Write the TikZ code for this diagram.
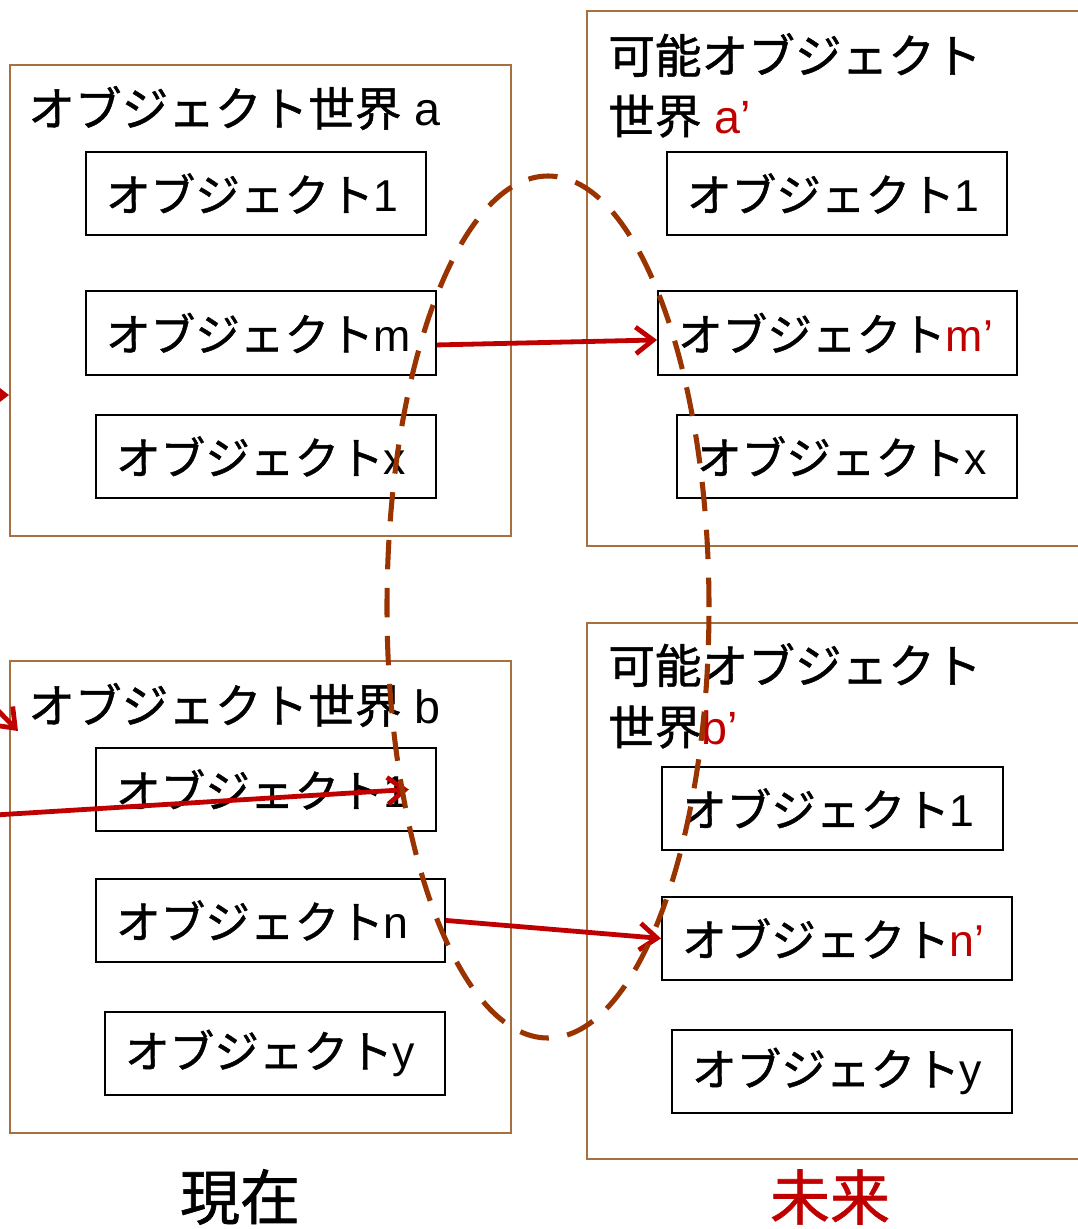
\documentclass[tikz,border=0pt]{standalone}
\usepackage{fontspec}
\setmainfont{Liberation Sans}
\newfontfamily\jpfont[FakeBold=1]{Noto Sans CJK JP}
\newcommand{\jp}[1]{{\jpfont #1}}
\usetikzlibrary{arrows.meta}
\definecolor{worldbrown}{RGB}{166,112,64}
\definecolor{ellbrown}{RGB}{153,51,0}
\definecolor{darkred}{RGB}{192,0,0}
\begin{document}
\begin{tikzpicture}[x=0.75pt,y=-0.75pt,
  world/.style={draw=worldbrown, line width=1.2pt, anchor=north west, inner sep=0pt},
  obj/.style={draw=black, line width=1.4pt, anchor=north west, inner xsep=15pt, inner ysep=0pt,
    minimum height=62.25pt, align=left, text width=#1, font=\fontsize{33.5}{36}\selectfont},
  wtitle/.style={anchor=west, inner sep=0pt, font=\fontsize{35}{40}\selectfont},
  bottomlabel/.style={inner sep=0pt, font=\fontsize{45}{50}\selectfont},
  arr/.style={draw=darkred, line width=3.6pt, -{Straight Barb[length=13pt,width=20pt]}},
  dashell/.style={draw=ellbrown, line width=3.8pt, dash pattern=on 22pt off 14pt}
]
\useasboundingbox (0,0) rectangle (1078,1229);
\clip (0,0) rectangle (1078,1229);

% worlds
\node[world, minimum width=375.75pt, minimum height=353.25pt] (wa) at (9,64) {};
\node[world, minimum width=375.75pt, minimum height=354pt] (wb) at (9,660) {};
\node[world, minimum width=378pt, minimum height=401.25pt] (wap) at (586,10) {};
\node[world, minimum width=378pt, minimum height=402pt] (wbp) at (586,622) {};

% titles
\node[wtitle] (ta) at (28,108) {\jp{オブジェクト世界} a};
\node[wtitle] (tb) at (28,705) {\jp{オブジェクト世界} b};
\node[wtitle] (tap1) at (608,55) {\jp{可能オブジェクト}};
\node[wtitle] (tap2) at (608,116) {\jp{世界} \textcolor{darkred}{a’}};
\node[wtitle] (tbp1) at (608,665) {\jp{可能オブジェクト}};
\node[wtitle] (tbp2) at (608,727) {\jp{世界}\textcolor{darkred}{b’}};

% objects, left
\node[obj=225pt] (a1) at (85,151) {\jp{オブジェクト}1};
\node[obj=232.5pt, minimum height=63pt] (am) at (85,290) {\jp{オブジェクト}m};
\node[obj=225pt] (ax) at (95,414) {\jp{オブジェクト}x};
\node[obj=225pt] (b1) at (95,747) {\jp{オブジェクト}1};
\node[obj=231.75pt] (bn) at (95,878) {\jp{オブジェクト}n};
\node[obj=225pt] (by) at (104,1011) {\jp{オブジェクト}y};

% objects, right
\node[obj=225pt] (ap1) at (666,151) {\jp{オブジェクト}1};
\node[obj=239.25pt, minimum height=63pt] (apm) at (657,290) {\jp{オブジェクト}\textcolor{darkred}{m’}};
\node[obj=225pt] (apx) at (676,414) {\jp{オブジェクト}x};
\node[obj=225.75pt] (bp1) at (661,766) {\jp{オブジェクト}1};
\node[obj=232.5pt] (bpn) at (661,896) {\jp{オブジェクト}\textcolor{darkred}{n’}};
\node[obj=225pt] (bpy) at (671,1029) {\jp{オブジェクト}y};

% bottom labels
\node[bottomlabel] (now) at (240,1197) {\jp{現在}};
\node[bottomlabel, text=darkred] (fut) at (830,1197) {\jp{未来}};

% arrows
\draw[arr] ([yshift=-9pt]am.east) -- ([yshift=-5.25pt]apm.west);
\draw[arr] (bn.east) -- (bpn.west);
\coordinate (lb) at (-5,815);
\draw[arr] (lb) -- ([xshift=-21pt]b1.east);
\coordinate (la) at (-40,395);
\draw[arr] (la) -- (wa.west |- la);
\coordinate (lbw) at (-22,690);
\coordinate (lbt) at (18,731);
\draw[arr] (lbw) -- (lbt);

% dashed ellipse
\draw[dashell] (548,607) ellipse [x radius=120.75pt, y radius=323.25pt];
\end{tikzpicture}
\end{document}
